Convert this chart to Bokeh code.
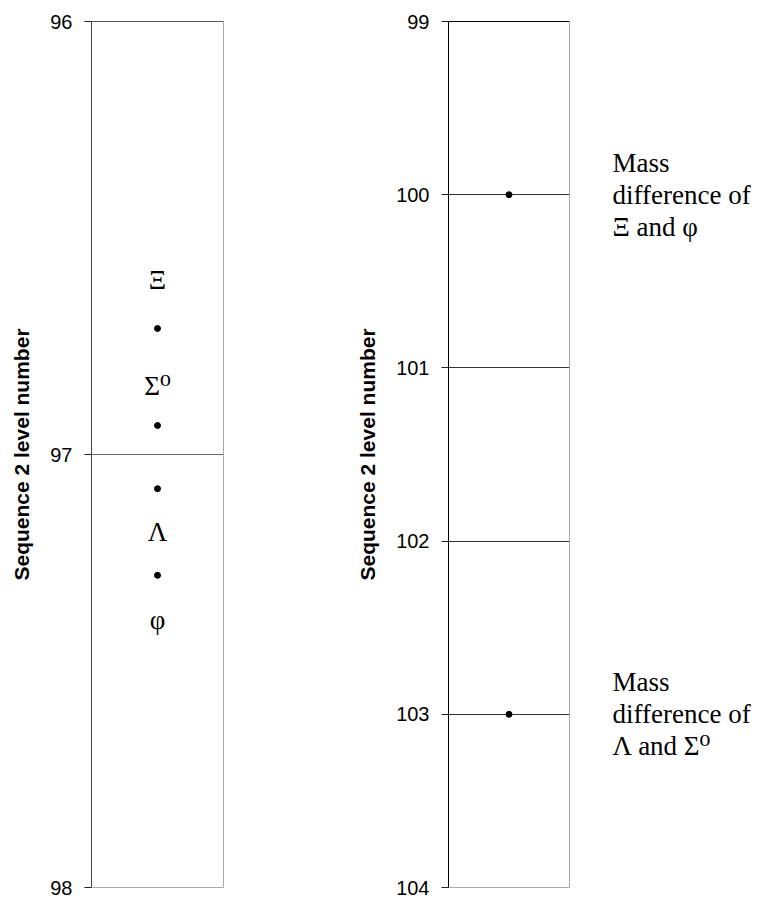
from bokeh.plotting import figure
from bokeh.models import Range1d, FixedTicker, LinearAxis, ColumnDataSource
from bokeh.layouts import row
from bokeh.embed import file_html
from bokeh.resources import INLINE
from bokeh.core.properties import value

# ---- data ----
axis_title = "Sequence 2 level number"

left_ticks = [96, 97, 98]
left_grid = [97]
left_dot_levels = [96.709, 96.933, 97.079, 97.279]
particle_names = ["Ξ", "Σ⁰", "Λ", "φ"]
particle_levels = [96.598, 96.841, 97.179, 97.383]

right_ticks = [99, 100, 101, 102, 103, 104]
right_grid = [100, 101, 102, 103]
right_dot_levels = [100, 103]
right_notes = ["Mass\ndifference of\nΞ and φ", "Mass\ndifference of\nΛ and Σ⁰"]
right_note_levels = [100, 103]

column_x = 0.5
SERIF = "'Liberation Serif', 'DejaVu Serif', serif"


def edge_axis(color):
    return LinearAxis(ticker=FixedTicker(ticks=[]), axis_line_color=color,
                      major_tick_line_color=None, minor_tick_line_color=None,
                      major_label_text_font_size="0px")


def style_axis(p, ticks, grid_ticks, axis_color, top_color, grid_color):
    p.xaxis.visible = False
    p.xgrid.visible = False
    ax = p.yaxis[0]
    ax.ticker = FixedTicker(ticks=ticks)
    ax.axis_line_color = axis_color
    ax.major_tick_line_color = "#222222"
    ax.major_tick_out = 7
    ax.major_tick_in = 0
    ax.minor_tick_line_color = None
    ax.major_label_text_font = "Liberation Sans"
    ax.major_label_text_font_size = "20px"
    ax.major_label_text_color = "black"
    ax.major_label_standoff = 12
    ax.axis_label = axis_title
    ax.axis_label_text_font = "Liberation Sans"
    ax.axis_label_text_font_style = "bold"
    ax.axis_label_text_font_size = "21px"
    ax.axis_label_text_color = "black"
    ax.axis_label_standoff = 14
    p.ygrid.ticker = FixedTicker(ticks=grid_ticks)
    p.ygrid.grid_line_color = grid_color
    p.outline_line_color = None
    p.add_layout(edge_axis(top_color), "above")
    p.add_layout(edge_axis("#aaaaaa"), "right")
    p.add_layout(edge_axis("#aaaaaa"), "below")


# ---- left panel ----
p1 = figure(width=308, height=899, x_range=Range1d(0, 1), y_range=Range1d(98, 96),
            output_backend="svg", toolbar_location=None,
            min_border_left=91, min_border_right=85, min_border_top=21, min_border_bottom=12)
style_axis(p1, left_ticks, left_grid, "#444444", "#555555", "#666666")

src_dots1 = ColumnDataSource(dict(x=[column_x] * len(left_dot_levels), y=left_dot_levels))
p1.scatter("x", "y", source=src_dots1, size=6, color="black")

src_names = ColumnDataSource(dict(x=[column_x] * len(particle_names), y=particle_levels, t=particle_names))
p1.text("x", "y", text="t", source=src_names, text_align="center", text_baseline="middle",
        text_font=value(SERIF), text_font_size=value("27px"), text_color="black")

# ---- right panel ----
p2 = figure(width=271, height=899, x_range=Range1d(0, 1), y_range=Range1d(104, 99),
            output_backend="svg", toolbar_location=None,
            min_border_left=140, min_border_right=10, min_border_top=18, min_border_bottom=11)
style_axis(p2, right_ticks, right_grid, "black", "black", "#333333")

src_dots2 = ColumnDataSource(dict(x=[column_x] * len(right_dot_levels), y=right_dot_levels))
p2.scatter("x", "y", source=src_dots2, size=6, color="black")

# ---- notes column ----
p3 = figure(width=180, height=899, x_range=Range1d(0, 1), y_range=p2.y_range,
            output_backend="svg", toolbar_location=None,
            min_border_left=33, min_border_right=0, min_border_top=18, min_border_bottom=11)
p3.xaxis.visible = False
p3.yaxis.visible = False
p3.grid.visible = False
p3.outline_line_color = None

src_notes = ColumnDataSource(dict(x=[0] * len(right_notes), y=right_note_levels, t=right_notes))
p3.text("x", "y", text="t", source=src_notes, text_align="left", text_baseline="middle",
        text_font=value(SERIF), text_font_size=value("27px"), text_color="black",
        text_line_height=1.07)

layout = row(p1, p2, p3)
open("out.html", "w").write(file_html(layout, INLINE))
